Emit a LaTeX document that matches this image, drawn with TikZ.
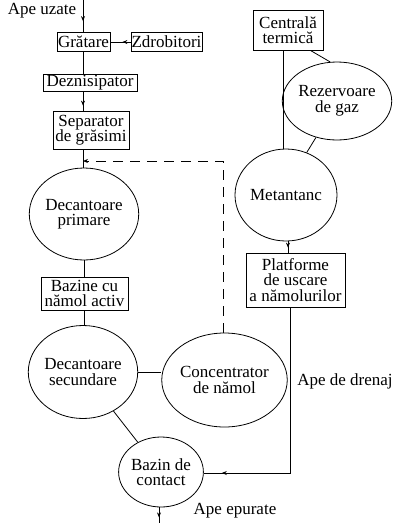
\documentclass[tikz,border=0pt]{standalone}
\usepackage{fontspec}
\setmainfont{Liberation Serif}
\usetikzlibrary{shapes.geometric,arrows.meta,decorations.markings}
\begin{document}
\begin{tikzpicture}[x=1pt,y=-1pt,
  every node/.style={font=\fontsize{17}{15.5}\selectfont, inner sep=0pt, align=center},
  box/.style={draw, line width=0.8pt, rectangle},
  oval/.style={draw, line width=0.8pt, ellipse},
  conn/.style={line width=0.8pt},
  tipat/.style={postaction={decorate}, decoration={markings, mark=at position #1 with {\arrow{Stealth[length=5pt,width=4pt]}}}}]
\useasboundingbox (0,0) rectangle (403,523);
% nodes
\node[box, minimum width=53pt, minimum height=19pt] (gratare) at (83.5,42) {Grătare};
\node[box, minimum width=71pt, minimum height=19pt] (zdrob) at (166.5,42) {Zdrobitori};
\node[box, minimum width=94pt, minimum height=17pt] (deznis) at (90,83) {Deznisipator};
\node[box, minimum width=76pt, minimum height=38pt] (separator) at (91,130) {Separator\\de grăsimi};
\node[oval, minimum width=98pt, minimum height=92pt] (decprim) at (84,214) {Decantoare\\primare};
\node[box, minimum width=87pt, minimum height=33pt] (bazine) at (84.5,293.5) {Bazine cu\\nămol activ};
\node[oval, minimum width=100pt, minimum height=93pt] (decsec) at (83,372) {Decantoare\\secundare};
\node[oval, minimum width=103pt, minimum height=94pt] (conc) at (224.5,380) {Concentrator\\de nămol};
\node[oval, minimum width=76pt, minimum height=70pt] (bazin) at (161,472) {Bazin de\\contact};
\node[box, minimum width=70pt, minimum height=40pt] (centrala) at (288,30) {Centrală\\termică};
\node[oval, minimum width=92pt, minimum height=78pt] (rezerv) at (337,101) {Rezervoare\\de gaz};
\node[oval, minimum width=102pt, minimum height=92pt] (metan) at (286,195) {Metantanc};
\node[box, minimum width=99pt, minimum height=54pt] (platf) at (295.5,280) {Platforme\\de uscare\\a nămolurilor};
\node (apeuz) at (42,11) {Ape uzate};
\node (drenaj) at (345,381) {Ape de drenaj};
\node (epur) at (235,511) {Ape epurate};
% coordinates
\coordinate (top) at (83,0);
\coordinate (bottom) at (159,523);
\coordinate (dcorner) at (223,161);
\coordinate (djoin) at (83,161);
\coordinate (drcorner) at (290,473);
\coordinate (cx) at (283,0);
% connectors
\draw[conn, tipat=-11pt] (top) -- (top |- gratare.north);
\draw[conn, tipat=-12pt] (zdrob.west) -- (gratare.east);
\draw[conn] (top |- gratare.south) -- (top |- deznis.north);
\draw[conn, tipat=-5pt] (top |- deznis.south) -- (top |- separator.north);
\draw[conn] (top |- separator.south) -- (top |- decprim.north);
\draw[conn, dash pattern=on 10pt off 7pt, -{Stealth[length=5pt,width=4pt]}] (conc.north -| dcorner) -- (dcorner) -- (djoin);
\draw[conn] (decprim.south) -- (decprim.south |- bazine.north);
\draw[conn] (decprim.south |- bazine.south) -- (decprim.south |- decsec.north);
\draw[conn] (decsec.east) -- (decsec.east -| conc.west);
\draw[conn] (decsec) -- (bazin);
\draw[conn, tipat=10pt] (bazin.south -| bottom) -- (bottom);
\draw[conn] (centrala.south -| cx) -- (metan.north -| cx);
\draw[conn] ([xshift=-13pt]centrala.south east) -- (rezerv.100);
\draw[conn] (rezerv.240) -- (metan.64);
\draw[conn, tipat=-5pt] ([xshift=2pt]metan.south) -- ([xshift=2pt]metan.south |- platf.north);
\draw[conn, tipat=-18pt] (platf.south -| drcorner) -- (drcorner) -- (bazin.east |- drcorner);
\end{tikzpicture}
\end{document}
